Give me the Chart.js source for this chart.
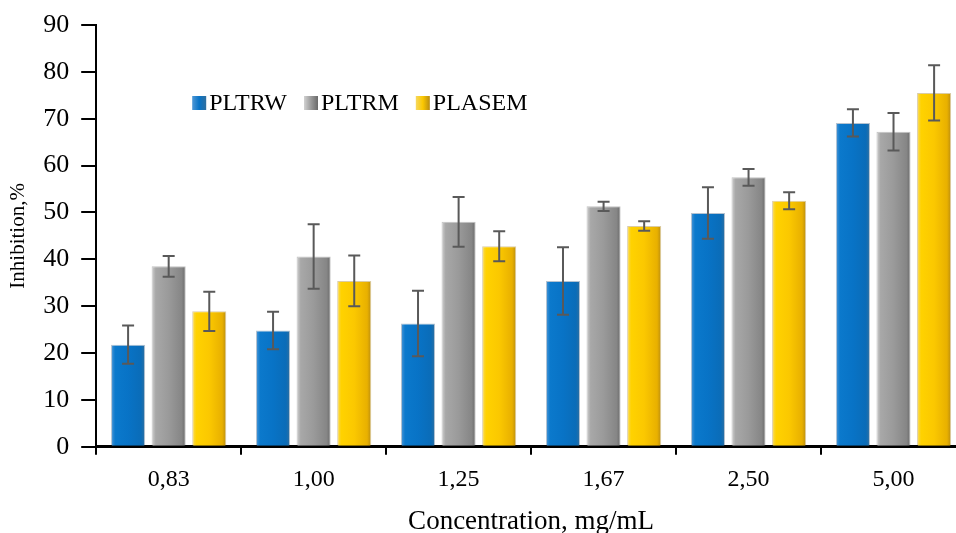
<!DOCTYPE html>
<html>
<head>
<meta charset="utf-8">
<script src="https://cdn.jsdelivr.net/npm/chart.js@4.4.1/dist/chart.umd.min.js"></script>
<style>
html, body { margin: 0; padding: 0; background: #fff; overflow: hidden; }
</style>
</head>
<body>
<canvas id="inhibitionChart" width="980" height="533"></canvas>
<script>
const concentrations = ['0,83', '1,00', '1,25', '1,67', '2,50', '5,00']
const pltrw = [21.8, 24.8, 26.3, 35.4, 49.9, 69.1]
const pltrwErr = [4.1, 4.0, 7.0, 7.2, 5.5, 2.9]
const pltrm = [38.5, 40.6, 48.0, 51.3, 57.5, 67.2]
const pltrmErr = [2.2, 6.9, 5.3, 1.0, 1.8, 4.0]
const plasem = [28.9, 35.4, 42.8, 47.1, 52.5, 75.5]
const plasemErr = [4.2, 5.4, 3.2, 1.0, 1.8, 5.9]

const serif = 'Liberation Serif, Times New Roman, serif'
const catPct = 0.84
const barPct = 0.84

// colour stops left -> right for the bevelled bars
const blueStops = ['#4f98d6', '#0b79cc', '#0873c6', '#0a6cb8', '#2f6f9f']
const grayStops = ['#d2d2d2', '#a8a8a8', '#9a9a9a', '#868686', '#6a6a6a']
const yellowStops = ['#f6d860', '#ffd200', '#fbc800', '#e8b000', '#b98c10']

function fillFor(stops) {
    return (c) => {
        const chart = c.chart
        const x = chart.scales.x
        if (!x || c.dataIndex === undefined || !isFinite(x.width)) return stops[2]
        const slot = x.width / concentrations.length * catPct / 3
        const cx = x.getPixelForValue(c.dataIndex) + (c.datasetIndex - 1) * slot
        const half = slot * barPct / 2
        const g = chart.ctx.createLinearGradient(cx - half, 0, cx + half, 0)
        g.addColorStop(0, stops[0])
        g.addColorStop(0.12, stops[1])
        g.addColorStop(0.5, stops[2])
        g.addColorStop(0.88, stops[3])
        g.addColorStop(1, stops[4])
        return g
    }
}

const errorBars = {
    id: 'errorBars',
    afterDatasetsDraw(chart) {
        const ctx = chart.ctx
        const y = chart.scales.y
        ctx.save()
        ctx.strokeStyle = '#595959'
        ctx.lineWidth = 2
        chart.data.datasets.forEach((ds, i) => {
            chart.getDatasetMeta(i).data.forEach((bar, j) => {
                const v = ds.data[j]
                const e = ds.errors[j]
                const top = y.getPixelForValue(v + e)
                const bot = y.getPixelForValue(v - e)
                ctx.beginPath()
                ctx.moveTo(bar.x, top)
                ctx.lineTo(bar.x, bot)
                ctx.moveTo(bar.x - 6, top)
                ctx.lineTo(bar.x + 6, top)
                ctx.moveTo(bar.x - 6, bot)
                ctx.lineTo(bar.x + 6, bot)
                ctx.stroke()
            })
        })
        ctx.restore()
    }
}

const innerLegend = {
    id: 'innerLegend',
    afterDraw(chart) {
        const ctx = chart.ctx
        const area = chart.chartArea
        let x = area.left + 96
        const y = area.top + 78
        ctx.save()
        ctx.font = '24px ' + serif
        ctx.textBaseline = 'middle'
        chart.data.datasets.forEach((ds) => {
            const g = ctx.createLinearGradient(x, 0, x + 14, 0)
            g.addColorStop(0, ds.legendStops[0])
            g.addColorStop(0.5, ds.legendStops[2])
            g.addColorStop(1, ds.legendStops[4])
            ctx.fillStyle = g
            ctx.fillRect(x, y - 7, 14, 14)
            ctx.fillStyle = '#000'
            ctx.fillText(ds.label, x + 17, y + 1)
            x += 17 + ctx.measureText(ds.label).width + 17
        })
        ctx.restore()
    }
}

new Chart(document.getElementById('inhibitionChart'), {
    type: 'bar',
    data: {
        labels: concentrations,
        datasets: [
            { label: 'PLTRW', data: pltrw, errors: pltrwErr, legendStops: blueStops,
              backgroundColor: fillFor(blueStops), borderColor: 'rgba(40,80,120,0.35)', borderWidth: 1 },
            { label: 'PLTRM', data: pltrm, errors: pltrmErr, legendStops: grayStops,
              backgroundColor: fillFor(grayStops), borderColor: 'rgba(80,80,80,0.35)', borderWidth: 1 },
            { label: 'PLASEM', data: plasem, errors: plasemErr, legendStops: yellowStops,
              backgroundColor: fillFor(yellowStops), borderColor: 'rgba(150,110,0,0.35)', borderWidth: 1 }
        ]
    },
    options: {
        responsive: false,
        animation: false,
        categoryPercentage: catPct,
        barPercentage: barPct,
        layout: { padding: { top: 4, right: 14, left: 0, bottom: -5 } },
        plugins: {
            legend: { display: false },
            tooltip: { enabled: false }
        },
        scales: {
            x: {
                grid: { drawOnChartArea: false, tickLength: 8, color: '#000', lineWidth: 2 },
                border: { color: '#000', width: 3 },
                ticks: { color: '#000', font: { family: serif, size: 24 }, padding: 11 },
                title: { display: true, text: 'Concentration, mg/mL', color: '#000',
                         font: { family: serif, size: 27 }, padding: { top: 0, bottom: 0 } }
            },
            y: {
                min: 0,
                max: 90,
                grid: { drawOnChartArea: false, tickLength: 15, color: '#000', lineWidth: 2 },
                border: { color: '#000', width: 2 },
                ticks: { stepSize: 10, color: '#000', font: { family: serif, size: 26, lineHeight: 1 }, padding: 12 },
                title: { display: true, text: 'Inhibition,%', color: '#000',
                         font: { family: serif, size: 21 }, padding: { top: 6, bottom: 0 } }
            }
        }
    },
    plugins: [errorBars, innerLegend]
})
</script>
</body>
</html>
